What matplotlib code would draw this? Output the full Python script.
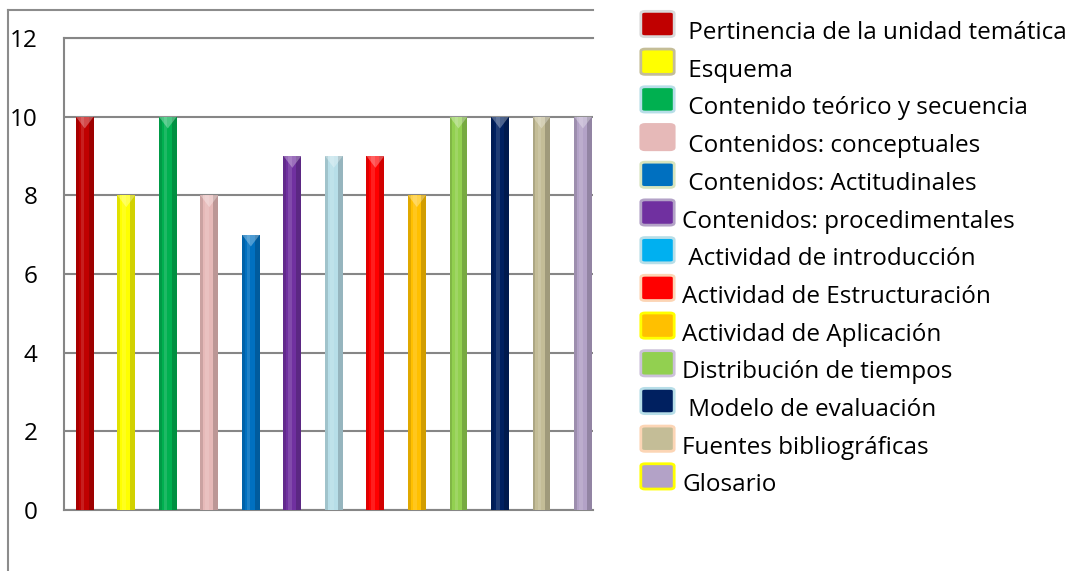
import numpy as np
import matplotlib.pyplot as plt
from matplotlib.patches import FancyBboxPatch, Polygon
from matplotlib.lines import Line2D

# data
labels = [" Pertinencia de la unidad temática", " Esquema", " Contenido teórico y secuencia",
          " Contenidos: conceptuales", " Contenidos: Actitudinales", "Contenidos: procedimentales",
          " Actividad de introducción", "Actividad de Estructuración", "Actividad de Aplicación",
          "Distribución de tiempos", " Modelo de evaluación", "Fuentes bibliográficas", "Glosario"]
values = [10, 8, 10, 8, 7, 9, 9, 9, 8, 10, 10, 10, 10]
bar_colors = ["#C00000", "#FFFF00", "#00B050", "#E6B9B8", "#0070C0", "#7030A0", "#B7DEE8",
              "#FF0000", "#FFC000", "#92D050", "#002060", "#C4BD97", "#B3A2C7"]
legend_colors = ["#C00000", "#FFFF00", "#00B050", "#E6B9B8", "#0070C0", "#7030A0", "#00B0F0",
                 "#FF0000", "#FFC000", "#92D050", "#002060", "#C4BD97", "#B3A2C7"]
legend_edges = ["#D9D9D9", "#C4BD97", "#B7DEE8", "#E6B9B8", "#D7E4BD", "#B3A2C7", "#B7DEE8",
                "#FCD5B5", "#FFFF00", "#CCC1DA", "#B7DEE8", "#FCD5B5", "#FFFF00"]
yticks = [0, 2, 4, 6, 8, 10, 12]

plt.rcParams['font.family'] = ['Open Sans', 'DejaVu Sans']
W, H = 1089, 571
fig = plt.figure(figsize=(W / 100, H / 100), dpi=100)
ax = fig.add_axes([64 / W, (H - 510) / H, (593 - 64) / W, (510 - 38) / H])

x = np.arange(len(values))
bw = 0.43
ax.bar(x, values, width=bw, color=bar_colors, zorder=3, linewidth=0)
# fake cylinder shading
for xi, v, c in zip(x, values, bar_colors):
    ax.bar(xi + bw * 0.36, v, width=bw * 0.28, color="black", alpha=0.18, zorder=4, linewidth=0)
    ax.bar(xi - bw * 0.42, v, width=bw * 0.16, color="black", alpha=0.12, zorder=4, linewidth=0)
    ax.bar(xi - bw * 0.12, v, width=bw * 0.2, color="white", alpha=0.12, zorder=4, linewidth=0)
    tri = Polygon([[xi - bw / 2, v], [xi + bw / 2, v], [xi, v - 0.3]], closed=True,
                  facecolor="white", alpha=0.3, zorder=5, linewidth=0)
    ax.add_patch(tri)

ax.set_xlim(-0.5, 12.24)
ax.set_ylim(0, 12)
ax.set_yticks(yticks)
ax.set_xticks([])
ax.yaxis.grid(True, color="#868686", linewidth=1.5, zorder=0)
ax.tick_params(axis="y", length=0, pad=19, labelsize=17.5)
for s in ["left", "bottom", "top"]:
    ax.spines[s].set_color("#868686")
    ax.spines[s].set_linewidth(1.5)
ax.spines["right"].set_visible(False)

# outer chart frame
fig.add_artist(Line2D([8 / W, 593 / W], [1 - 10 / H, 1 - 10 / H], color="#8C8C8C", lw=1.5))
fig.add_artist(Line2D([8 / W, 8 / W], [0, 1 - 10 / H], color="#8C8C8C", lw=1.5))

# legend
for i, (lab, c, ec) in enumerate(zip(labels, legend_colors, legend_edges)):
    yc = 24 + i * 37.7
    box = FancyBboxPatch((643 / W, 1 - (yc + 11.5) / H), 29 / W, 23 / H,
                         boxstyle="round,pad=0.002,rounding_size=0.004",
                         transform=fig.transFigure, facecolor=c, edgecolor=ec, lw=2)
    fig.add_artist(box)
    fig.text(682 / W, 1 - (yc + 9) / H, lab, fontsize=17.5, va="center", ha="left")

fig.savefig("out.png", dpi=100)
